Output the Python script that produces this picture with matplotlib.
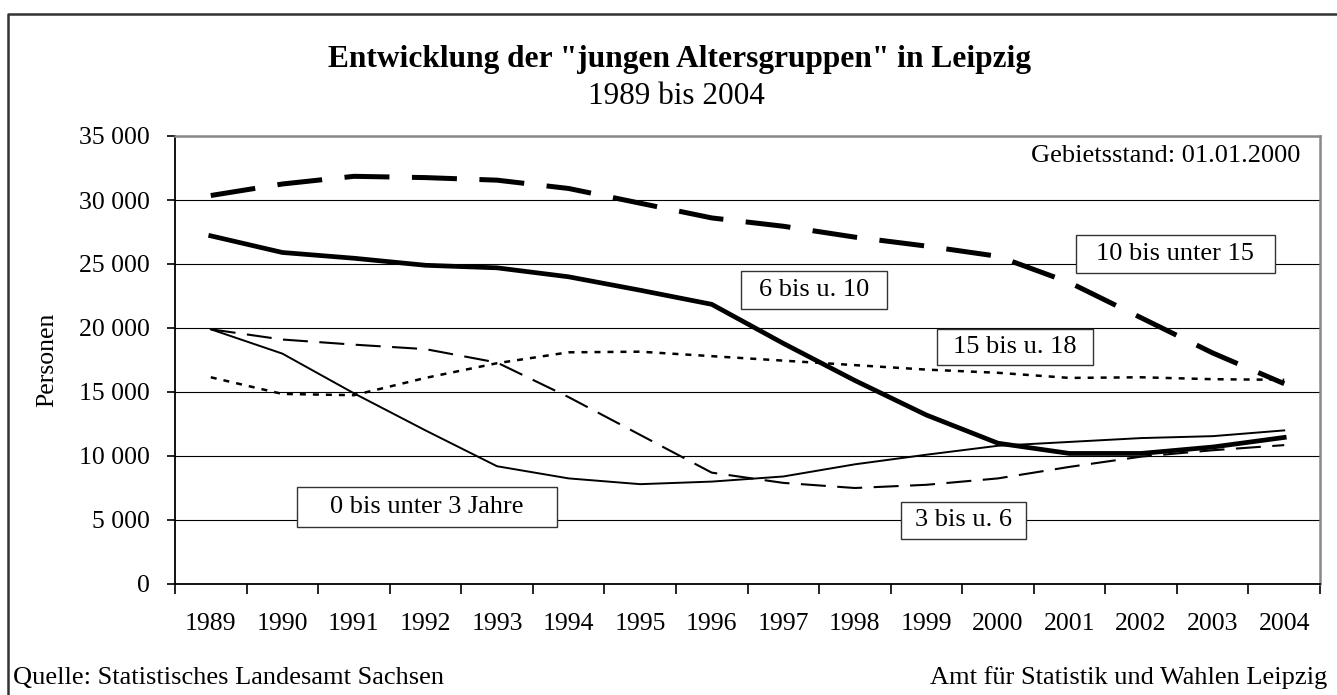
import numpy as np
import matplotlib
matplotlib.use("Agg")
import matplotlib.pyplot as plt
from matplotlib.patches import Rectangle
from matplotlib.lines import Line2D
from matplotlib.ticker import FuncFormatter

plt.rcParams['font.family'] = ['Liberation Serif', 'DejaVu Serif']

# data
years = ['1989', '1990', '1991', '1992', '1993', '1994', '1995', '1996',
         '1997', '1998', '1999', '2000', '2001', '2002', '2003', '2004']
age_0_3 = [19900, 18000, 14900, 12000, 9200, 8250, 7800, 8000,
           8400, 9350, 10100, 10800, 11100, 11400, 11550, 12000]
age_3_6 = [19900, 19100, 18700, 18350, 17300, 14600, 11650, 8700,
           7900, 7500, 7750, 8250, 9150, 9950, 10450, 10850]
age_6_10 = [27200, 25900, 25450, 24900, 24700, 24000, 22950, 21850,
            18800, 15900, 13200, 11000, 10200, 10200, 10700, 11450]
age_10_15 = [30350, 31250, 31850, 31750, 31550, 30900, 29750, 28600,
             27950, 27100, 26400, 25600, 23550, 20800, 18050, 15650]
age_15_18 = [16150, 14850, 14750, 16100, 17250, 18100, 18150, 17800,
             17450, 17100, 16750, 16500, 16100, 16150, 16000, 15950]

W, H = 1337, 695
fs = 19
fig = plt.figure(figsize=(W / 100, H / 100), dpi=100)
ax = fig.add_axes([175 / W, 1 - 584 / H, (1320 - 175) / W, (584 - 136) / H])

x = np.arange(len(years))
ax.plot(x, age_10_15, color='black', lw=3.6, dashes=(9, 4.5), dash_capstyle='butt')
ax.plot(x, age_6_10, color='black', lw=3.4)
ax.plot(x, age_0_3, color='black', lw=1.4)
ax.plot(x, age_3_6, color='black', lw=1.5, dashes=(12, 5.5))
ax.plot(x, age_15_18, color='black', lw=1.8, dashes=(2.4, 2.8))

ax.set_xlim(-0.5, len(years) - 0.5)
ax.set_ylim(0, 35000)
ax.set_yticks(np.arange(0, 35001, 5000))
ax.yaxis.set_major_formatter(FuncFormatter(lambda v, p: f"{int(v):,}".replace(',', ' ')))
ax.grid(axis='y', color='black', lw=0.8)
ax.set_axisbelow(True)

ax.set_xticks(np.arange(-0.5, len(years), 1.0))
ax.set_xticklabels([])
ax.set_xticks(x, minor=True)
ax.set_xticklabels(years, minor=True)
ax.tick_params(axis='x', which='major', length=7, width=1.2, color='black')
ax.tick_params(axis='x', which='minor', length=0, pad=21, labelsize=fs - 0.5)
ax.tick_params(axis='y', length=6, width=1.2, pad=12, labelsize=fs - 0.5)

for s in ['left', 'bottom']:
    ax.spines[s].set_color('black')
    ax.spines[s].set_linewidth(1.3)
for s in ['top', 'right']:
    ax.spines[s].set_color('#888888')
    ax.spines[s].set_linewidth(1.8)

# series labels in boxes (pixel centre, width, height)
labels = [('0 bis unter 3 Jahre', 427, 507, 260, 40),
          ('3 bis u. 6', 963, 520, 125, 37),
          ('6 bis u. 10', 814, 290, 146, 37),
          ('15 bis u. 18', 1015, 347, 156, 36),
          ('10 bis unter 15', 1175, 254, 199, 38)]
for txt, cx, cy, bw, bh in labels:
    fig.patches.append(Rectangle(((cx - bw / 2) / W, 1 - (cy + bh / 2) / H), bw / W, bh / H,
                                 transform=fig.transFigure, facecolor='white',
                                 edgecolor='#333333', lw=1.0, zorder=5))
    fig.text(cx / W, 1 - cy / H, txt, ha='center', va='center', fontsize=fs, zorder=6)

fig.text(1300 / W, 1 - 156 / H, 'Gebietsstand: 01.01.2000', ha='right', va='center', fontsize=fs)

fig.text(680 / W, 1 - 60 / H, 'Entwicklung der "jungen Altersgruppen" in Leipzig',
         ha='center', va='center', fontsize=22.6, fontweight='bold')
fig.text(676 / W, 1 - 97 / H, '1989 bis 2004', ha='center', va='center', fontsize=22.5)
fig.text(47 / W, 1 - 360 / H, 'Personen', rotation=90, ha='center', va='center', fontsize=fs - 0.5)

fig.text(13 / W, 1 - 678 / H, 'Quelle: Statistisches Landesamt Sachsen',
         ha='left', va='center', fontsize=fs)
fig.text(1327 / W, 1 - 678 / H, 'Amt für Statistik und Wahlen Leipzig',
         ha='right', va='center', fontsize=fs)

# outer frame
fig.lines.append(Line2D([8 / W, 8 / W, 1], [0, 1 - 14 / H, 1 - 14 / H],
                        transform=fig.transFigure, color='#333333', lw=1.8))

fig.savefig('out.png', dpi=100)
